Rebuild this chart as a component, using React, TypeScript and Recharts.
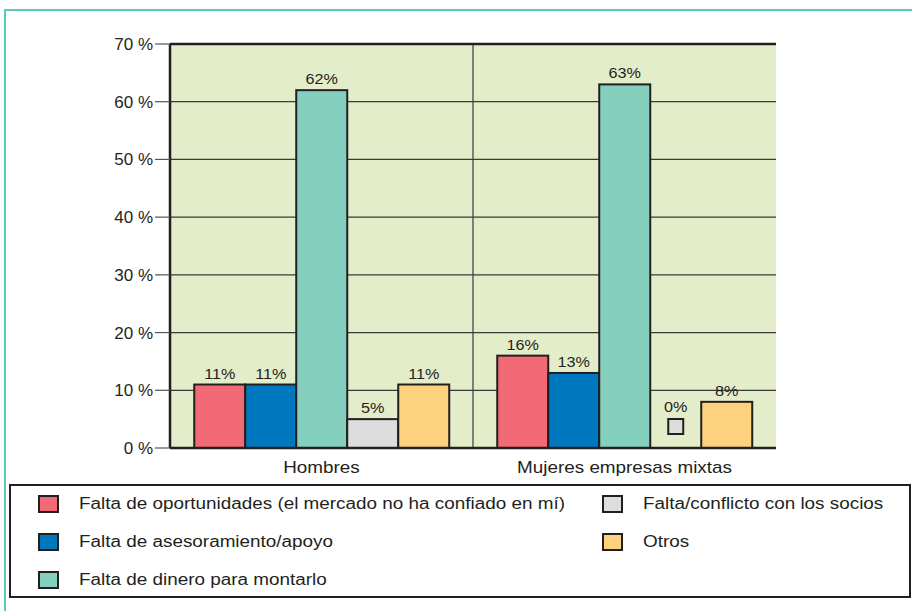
import React from 'react';
import { BarChart, Bar, XAxis, YAxis, CartesianGrid, LabelList, ReferenceLine } from 'recharts';

const categories = ['Hombres', 'Mujeres empresas mixtas'];
const oportunidades = [11, 16];
const asesoramiento = [11, 13];
const dinero = [62, 63];
const socios = [5, 0];
const otros = [11, 8];
const yTicks = [0, 10, 20, 30, 40, 50, 60, 70];

const series = [
  { key: 'oportunidades', name: 'Falta de oportunidades (el mercado no ha confiado en mí)', color: '#f26a76', values: oportunidades },
  { key: 'asesoramiento', name: 'Falta de asesoramiento/apoyo', color: '#0078bf', values: asesoramiento },
  { key: 'dinero', name: 'Falta de dinero para montarlo', color: '#85cfbf', values: dinero },
  { key: 'socios', name: 'Falta/conflicto con los socios', color: '#dcdddd', values: socios },
  { key: 'otros', name: 'Otros', color: '#fdd27e', values: otros },
];

const data = categories.map((c, i) => {
  const row: Record<string, string | number> = { name: c };
  series.forEach(s => { row[s.key] = s.values[i]; });
  return row;
});

const FONT = 'Arial, "Liberation Sans", sans-serif';
const INK = '#231f20';
const STRETCH = 1.18; // the source text is a little wide

// zero-valued bars are shown as a small empty box above the axis
const BarShape = (props: any) => {
  const { x, y, width, height, fill, value } = props;
  const v = Array.isArray(value) ? value[1] - value[0] : value;
  if (!v) {
    const s = 15;
    return <rect x={x + width / 2 - s / 2} y={y - s - 14} width={s} height={s} fill={fill} stroke={INK} strokeWidth={2} />;
  }
  return <rect x={x} y={y} width={width} height={height} fill={fill} stroke={INK} strokeWidth={2} />;
};

const ValueLabel = (props: any) => {
  const { x, y, width, value } = props;
  const lift = value === 0 ? 30 : 0;
  return (
    <text transform={`translate(${x + width / 2},${y - 6 - lift}) scale(1.08,1)`} textAnchor="middle" fill={INK} fontSize={15} fontFamily={FONT}>
      {`${value}%`}
    </text>
  );
};

const CatTick = (props: any) => {
  const { x, y, payload } = props;
  return (
    <text transform={`translate(${x},${y}) scale(${STRETCH},1)`} textAnchor="middle" dy="0.71em" fill={INK} fontSize={16} fontFamily={FONT}>
      {payload.value}
    </text>
  );
};

const Legend = () => {
  const cols = [series.slice(0, 3), series.slice(3)];
  return (
    <div style={{ position: 'absolute', left: 9, top: 484, width: 898, height: 110, border: `2px solid ${INK}`, fontFamily: FONT, fontSize: 16, color: INK }}>
      {cols.map((col, ci) => (
        <div key={ci} style={{ position: 'absolute', left: ci === 0 ? 27 : 591, top: -1 }}>
          {col.map(s => (
            <div key={s.key} style={{ display: 'flex', alignItems: 'center', height: 38, whiteSpace: 'nowrap' }}>
              <span style={{ display: 'inline-block', width: 17, height: 14, background: s.color, border: `2px solid ${INK}`, marginRight: 20 }} />
              <span style={{ display: 'inline-block', transform: `scaleX(${STRETCH})`, transformOrigin: 'left center' }}>{s.name}</span>
            </div>
          ))}
        </div>
      ))}
    </div>
  );
};

export default function App() {
  return (
    <div style={{ position: 'absolute', left: 0, top: 0, width: 912, height: 611, background: '#fff', overflow: 'hidden' }}>
      <div style={{ position: 'absolute', left: 4, top: 9, right: -10, bottom: -10, borderLeft: '2px solid #5ccab8', borderTop: '2px solid #5ccab8' }} />
      <BarChart
        width={912}
        height={611}
        data={data}
        margin={{ top: 44, right: 136, left: 0, bottom: 133 }}
        barCategoryGap="8%"
        barGap={0}
        style={{ position: 'absolute', left: 0, top: 0 }}
      >
        <CartesianGrid
          yAxisId="l"
          fill="#e4edca"
          fillOpacity={1}
          stroke="#3a3a3a"
          strokeWidth={1.2}
          verticalCoordinatesGenerator={({ offset }: any) => [offset.left + offset.width / 2]}
        />
        <XAxis
          dataKey="name"
          tickLine={false}
          tickMargin={8}
          axisLine={{ stroke: INK, strokeWidth: 2.5 }}
          tick={<CatTick />}
          height={30}
        />
        <YAxis
          yAxisId="l"
          width={170}
          domain={[0, 70]}
          ticks={yTicks}
          interval={0}
          tickSize={15}
          tickMargin={2}
          tickLine={{ stroke: '#555', strokeWidth: 1.2 }}
          axisLine={{ stroke: INK, strokeWidth: 2.5 }}
          tickFormatter={(v: number) => `${v} %`}
          tick={{ fill: INK, fontSize: 17, fontFamily: FONT }}
        />
        <YAxis
          yAxisId="r"
          orientation="right"
          width={0}
          domain={[0, 70]}
          tick={false}
          tickLine={false}
          axisLine={{ stroke: '#555', strokeWidth: 2.5 }}
        />
        <ReferenceLine yAxisId="l" y={70} stroke={INK} strokeWidth={2.5} />
        {series.map(s => (
          <Bar key={s.key} yAxisId="l" dataKey={s.key} name={s.name} fill={s.color} shape={BarShape} isAnimationActive={false}>
            <LabelList dataKey={s.key} content={ValueLabel} />
          </Bar>
        ))}
      </BarChart>
      <Legend />
    </div>
  );
}
